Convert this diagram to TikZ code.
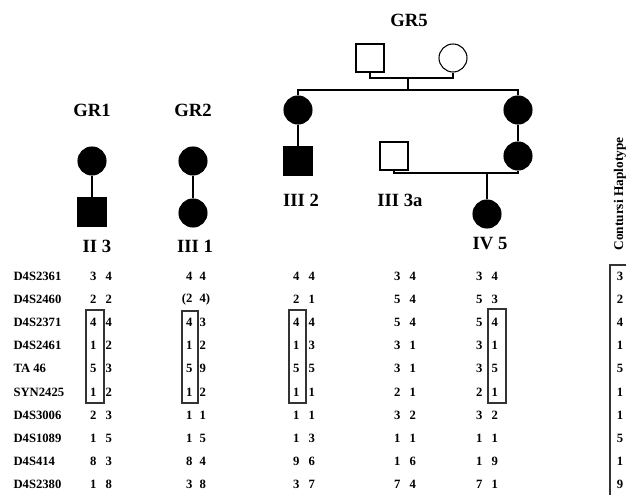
\documentclass[tikz,border=0pt]{standalone}
\usepackage{fontspec}
\setmainfont{Liberation Serif}
\begin{document}
\begin{tikzpicture}[x=0.75pt,y=-0.75pt,line width=0.8pt,
    female/.style={circle,draw,minimum size=21pt,inner sep=0pt},
    male/.style={rectangle,draw,minimum size=21pt,inner sep=0pt},
    sick/.style={fill=black},
    famlabel/.style={font=\fontsize{14}{16}\selectfont\bfseries},
    cell/.style={font=\fontsize{9.5}{11}\selectfont\bfseries,inner sep=0pt},
    hapbox/.style={draw=black!80,line width=0.9pt}]
    \useasboundingbox (0,0) rectangle (626,495);
    % 家系标题
    \node[famlabel] (gr1) at (92,110) {GR1};
    \node[famlabel] (gr2) at (193,110) {GR2};
    \node[famlabel] (gr5) at (409,20) {GR5};
    % GR1
    \node[female,sick] (g1m) at (92,161) {};
    \node[male,sick] (g1s) at (92,212) {};
    \draw (g1m) -- (g1s);
    \node[famlabel] (ii3) at (97,246) {II 3};
    % GR2
    \node[female,sick] (g2m) at (193,161) {};
    \node[female,sick] (g2d) at (193,213) {};
    \draw (g2m) -- (g2d);
    \node[famlabel] (iii1) at (195,246) {III 1};
    % GR5: 第一代
    \node[male] (g5f) at (370,58) {};
    \node[female] (g5m) at (453,58) {};
    \coordinate (m5l) at (370,78);
    \coordinate (m5r) at (453,78);
    \coordinate (m5c) at (408,78);
    \coordinate (s5c) at (408,90);
    \draw (g5f.south) -- (m5l) -- (m5r) -- (g5m.south);
    \draw (m5c) -- (s5c);
    % 第二代
    \node[female,sick] (g5a) at (298,110) {};
    \node[female,sick] (g5b) at (518,110) {};
    \coordinate (s5l) at (298,90);
    \coordinate (s5r) at (518,90);
    \draw (g5a.north) -- (s5l) -- (s5r) -- (g5b.north);
    % 第三代
    \node[male,sick] (iii2) at (298,161) {};
    \draw (g5a) -- (iii2);
    \node[famlabel] (l-iii2) at (301,200) {III 2};
    \node[female,sick] (g5c) at (518,156) {};
    \draw (g5b) -- (g5c);
    \node[male] (iii3a) at (394,156) {};
    \node[famlabel] (l-iii3a) at (400,200) {III 3a};
    \coordinate (m6l) at (394,173);
    \coordinate (m6r) at (518,173);
    \coordinate (m6c) at (487,173);
    \draw (iii3a.south) -- (m6l) -- (m6r) -- (g5c.south);
    % 第四代
    \node[female,sick] (iv5) at (487,214) {};
    \draw (m6c) -- (iv5.north);
    \node[famlabel] (l-iv5) at (490,244) {IV 5};
    % 单倍型表格
    \foreach \name/\a/\b/\c/\d/\e/\f/\g/\h/\i/\j/\hap [count=\r from 0] in {
        D4S2361/3/4/4/4/4/4/3/4/3/4/3,
        D4S2460/2/2/{(2}/{4)}/2/1/5/4/5/3/2,
        D4S2371/4/4/4/3/4/4/5/4/5/4/4,
        D4S2461/1/2/1/2/1/3/3/1/3/1/1,
        TA 46/5/3/5/9/5/5/3/1/3/5/5,
        SYN2425/1/2/1/2/1/1/2/1/2/1/1,
        D4S3006/2/3/1/1/1/1/3/2/3/2/1,
        D4S1089/1/5/1/5/1/3/1/1/1/1/5,
        D4S414/8/3/8/4/9/6/1/6/1/9/1,
        D4S2380/1/8/3/8/3/7/7/4/7/1/9}{
        \pgfmathsetmacro\y{276+23.2*\r}
        \node[cell,anchor=west] (mk\r) at (13,\y) {\name};
        \node[cell,anchor=east] (c1a\r) at (97,\y) {\a};
        \node[cell,anchor=west] (c1b\r) at (105,\y) {\b};
        \node[cell,anchor=east] (c2a\r) at (193,\y) {\c};
        \node[cell,anchor=west] (c2b\r) at (199,\y) {\d};
        \node[cell,anchor=east] (c3a\r) at (300,\y) {\e};
        \node[cell,anchor=west] (c3b\r) at (308,\y) {\f};
        \node[cell,anchor=east] (c4a\r) at (401,\y) {\g};
        \node[cell,anchor=west] (c4b\r) at (409,\y) {\h};
        \node[cell,anchor=east] (c5a\r) at (483,\y) {\i};
        \node[cell,anchor=west] (c5b\r) at (491,\y) {\j};
        \node[cell] (hp\r) at (620,\y) {\hap};
    }
    % 方框标出共同的单倍型
    \draw[hapbox] (86,310) rectangle (104,403);
    \draw[hapbox] (182,311) rectangle (198,403);
    \draw[hapbox] (289,310) rectangle (306,403);
    \draw[hapbox] (488,309) rectangle (506,403);
    \draw[hapbox] (640,265) -- (610,265) -- (610,500);
    \node[cell,font=\fontsize{10}{12}\selectfont\bfseries,rotate=90] (hap) at (620,194) {Contursi Haplotype};
\end{tikzpicture}
\end{document}
